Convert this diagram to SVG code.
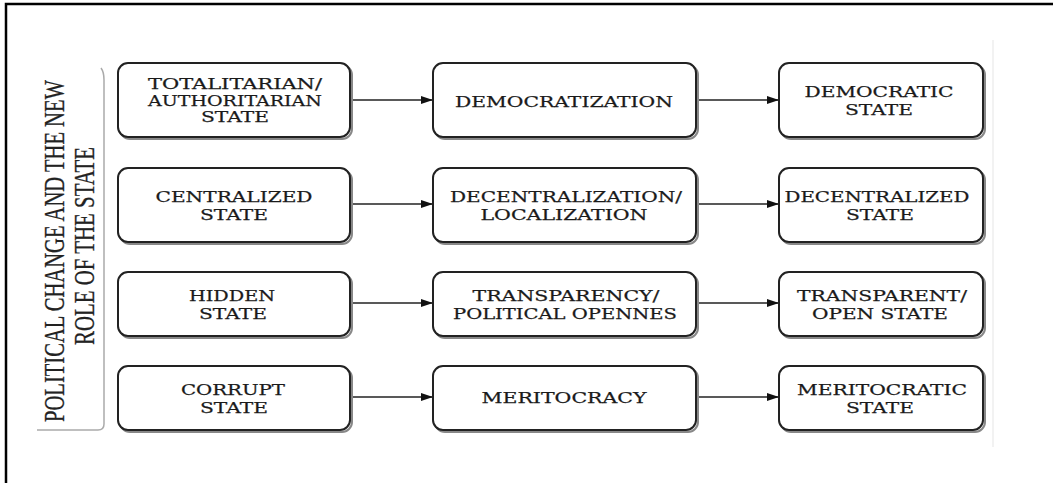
<svg xmlns="http://www.w3.org/2000/svg" width="1053" height="483" viewBox="0 0 1053 483">
<defs>
<marker id="ah" markerWidth="12" markerHeight="8" refX="12" refY="4" orient="auto" markerUnits="userSpaceOnUse">
<path d="M0,0 L12,4 L0,8 Z" fill="#111"/>
</marker>
<style>
.box{fill:#fff;stroke:#222;stroke-width:2}
.sh{fill:none;stroke:#888;stroke-width:2}
.t{font-family:"DejaVu Serif","Liberation Serif",serif;font-size:15px;fill:#1a1a1a;stroke:#1a1a1a;stroke-width:0.25;text-anchor:middle}
.v{font-family:"Liberation Serif",serif;font-size:30px;fill:#222;stroke:#222;stroke-width:0.3;text-anchor:middle}
.c{stroke:#222;stroke-width:1.4;fill:none;marker-end:url(#ah)}
</style>
</defs>
<rect width="1053" height="483" fill="#fff"/>
<rect x="6" y="4" width="1060" height="500" fill="none" stroke="#000" stroke-width="2.5"/>
<line x1="993" y1="40" x2="993" y2="447" stroke="#eee" stroke-width="1.5"/>
<g id="title">
<path d="M101,68 Q104,72 104,80 L104,424 Q104,430 98,430 L37,430" fill="none" stroke="#aaa" stroke-width="1.5"/>
<text class="v" transform="translate(64,251) rotate(-90)" textLength="342" lengthAdjust="spacingAndGlyphs">POLITICAL CHANGE AND THE NEW</text>
<text class="v" transform="translate(94,246) rotate(-90)" textLength="198" lengthAdjust="spacingAndGlyphs">ROLE OF THE STATE</text>
</g>
<g id="connectors">
<line class="c" x1="351" y1="100" x2="433" y2="100"/>
<line class="c" x1="697" y1="100" x2="779" y2="100"/>
<line class="c" x1="351" y1="204" x2="433" y2="204"/>
<line class="c" x1="697" y1="204" x2="779" y2="204"/>
<line class="c" x1="351" y1="303" x2="433" y2="303"/>
<line class="c" x1="697" y1="303" x2="779" y2="303"/>
<line class="c" x1="351" y1="397" x2="433" y2="397"/>
<line class="c" x1="697" y1="397" x2="779" y2="397"/>
</g>
<g id="n-totalitarian">
<rect class="sh" x="120" y="65" width="232" height="74" rx="10"/>
<rect class="box" x="118" y="63" width="232" height="74" rx="10"/>
<text class="t" x="235" y="89" textLength="174" lengthAdjust="spacingAndGlyphs">TOTALITARIAN/</text>
<text class="t" x="235" y="106" textLength="174" lengthAdjust="spacingAndGlyphs">AUTHORITARIAN</text>
<text class="t" x="235" y="122" textLength="68" lengthAdjust="spacingAndGlyphs">STATE</text>
</g>
<g id="n-democratization">
<rect class="sh" x="435" y="65" width="263" height="74" rx="10"/>
<rect class="box" x="433" y="63" width="263" height="74" rx="10"/>
<text class="t" x="564" y="107" textLength="218" lengthAdjust="spacingAndGlyphs">DEMOCRATIZATION</text>
</g>
<g id="n-democratic">
<rect class="sh" x="781" y="65" width="204" height="74" rx="10"/>
<rect class="box" x="779" y="63" width="204" height="74" rx="10"/>
<text class="t" x="879" y="97" textLength="149" lengthAdjust="spacingAndGlyphs">DEMOCRATIC</text>
<text class="t" x="879" y="115" textLength="68" lengthAdjust="spacingAndGlyphs">STATE</text>
</g>
<g id="n-centralized">
<rect class="sh" x="120" y="170" width="232" height="74" rx="10"/>
<rect class="box" x="118" y="168" width="232" height="74" rx="10"/>
<text class="t" x="234" y="202" textLength="157" lengthAdjust="spacingAndGlyphs">CENTRALIZED</text>
<text class="t" x="234" y="220" textLength="68" lengthAdjust="spacingAndGlyphs">STATE</text>
</g>
<g id="n-decentralization">
<rect class="sh" x="435" y="170" width="263" height="74" rx="10"/>
<rect class="box" x="433" y="168" width="263" height="74" rx="10"/>
<text class="t" x="566" y="202" textLength="232" lengthAdjust="spacingAndGlyphs">DECENTRALIZATION/</text>
<text class="t" x="564" y="220" textLength="167" lengthAdjust="spacingAndGlyphs">LOCALIZATION</text>
</g>
<g id="n-decentralized">
<rect class="sh" x="781" y="170" width="204" height="74" rx="10"/>
<rect class="box" x="779" y="168" width="204" height="74" rx="10"/>
<text class="t" x="877" y="202" textLength="185" lengthAdjust="spacingAndGlyphs">DECENTRALIZED</text>
<text class="t" x="880" y="220" textLength="68" lengthAdjust="spacingAndGlyphs">STATE</text>
</g>
<g id="n-hidden">
<rect class="sh" x="120" y="274" width="232" height="64" rx="10"/>
<rect class="box" x="118" y="272" width="232" height="64" rx="10"/>
<text class="t" x="232" y="301" textLength="86" lengthAdjust="spacingAndGlyphs">HIDDEN</text>
<text class="t" x="233" y="319" textLength="68" lengthAdjust="spacingAndGlyphs">STATE</text>
</g>
<g id="n-transparency">
<rect class="sh" x="435" y="274" width="263" height="64" rx="10"/>
<rect class="box" x="433" y="272" width="263" height="64" rx="10"/>
<text class="t" x="566" y="301" textLength="187" lengthAdjust="spacingAndGlyphs">TRANSPARENCY/</text>
<text class="t" x="565" y="319" textLength="224" lengthAdjust="spacingAndGlyphs">POLITICAL OPENNES</text>
</g>
<g id="n-transparent">
<rect class="sh" x="781" y="274" width="204" height="64" rx="10"/>
<rect class="box" x="779" y="272" width="204" height="64" rx="10"/>
<text class="t" x="882" y="301" textLength="170" lengthAdjust="spacingAndGlyphs">TRANSPARENT/</text>
<text class="t" x="880" y="319" textLength="136" lengthAdjust="spacingAndGlyphs">OPEN STATE</text>
</g>
<g id="n-corrupt">
<rect class="sh" x="120" y="368" width="232" height="64" rx="10"/>
<rect class="box" x="118" y="366" width="232" height="64" rx="10"/>
<text class="t" x="233" y="395" textLength="104" lengthAdjust="spacingAndGlyphs">CORRUPT</text>
<text class="t" x="234" y="413" textLength="68" lengthAdjust="spacingAndGlyphs">STATE</text>
</g>
<g id="n-meritocracy">
<rect class="sh" x="435" y="368" width="263" height="64" rx="10"/>
<rect class="box" x="433" y="366" width="263" height="64" rx="10"/>
<text class="t" x="564" y="403" textLength="165" lengthAdjust="spacingAndGlyphs">MERITOCRACY</text>
</g>
<g id="n-meritocratic">
<rect class="sh" x="781" y="368" width="204" height="64" rx="10"/>
<rect class="box" x="779" y="366" width="204" height="64" rx="10"/>
<text class="t" x="882" y="395" textLength="170" lengthAdjust="spacingAndGlyphs">MERITOCRATIC</text>
<text class="t" x="880" y="413" textLength="68" lengthAdjust="spacingAndGlyphs">STATE</text>
</g>
</svg>
